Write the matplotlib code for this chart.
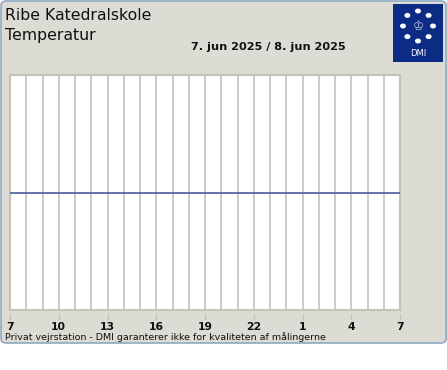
import matplotlib
matplotlib.use("Agg")
import matplotlib.pyplot as plt
from matplotlib.patches import FancyBboxPatch, Rectangle, Circle
import numpy as np

station = "Ribe Katedralskole"
parameter = "Temperatur"
date_label = "7. jun 2025 / 8. jun 2025"
footer = "Privat vejrstation - DMI garanterer ikke for kvaliteten af målingerne"
tick_hours = [7, 10, 13, 16, 19, 22, 25, 28, 31]
tick_labels = ["7", "10", "13", "16", "19", "22", "1", "4", "7"]
line_hours = [7, 31]
line_values = [0.0, 0.0]

W, H = 447, 370
fig = plt.figure(figsize=(W / 100, H / 100), dpi=100)
fig.patch.set_facecolor("white")

def fx(px):
    return px / W

def fy(py):
    return 1 - py / H

# panel
panel = FancyBboxPatch((fx(1), fy(343)), fx(445), (343 - 1) / H,
                       boxstyle="round,pad=0,rounding_size=0.012",
                       transform=fig.transFigure, facecolor="#dcdcd4",
                       edgecolor="#8eaac0", linewidth=1.2, zorder=-5)
fig.patches.append(panel)

# logo
logo = Rectangle((fx(393), fy(62)), fx(50), 58 / H, transform=fig.transFigure,
                 facecolor="#0b2b84", edgecolor="none", zorder=-4)
fig.patches.append(logo)
cx, cy, r = 418, 26, 15
for a in np.arange(0, 360, 45):
    t = np.deg2rad(a)
    fig.patches.append(Circle((fx(cx + r * np.cos(t)), fy(cy - r * np.sin(t))),
                              3.0 / W, transform=fig.transFigure,
                              facecolor="white", edgecolor="none", zorder=-3))
fig.text(fx(cx), fy(cy + 0.5), "♔", color="#b8c4e0", fontsize=9, ha="center", va="center")
fig.text(fx(418), fy(54), "DMI", color="white", fontsize=6, ha="center", va="center")

# titles
fig.text(fx(5), fy(20), station, fontsize=11.3, color="#111111", va="baseline")
fig.text(fx(5), fy(40), parameter, fontsize=11.3, color="#111111", va="baseline")
fig.text(fx(191), fy(49.5), date_label, fontsize=8.1, fontweight="bold",
         color="#111111", va="baseline")

# axes
ax = fig.add_axes([fx(10), fy(310), fx(390), 235 / H])
ax.set_facecolor("white")
ax.set_xlim(7, 31)
ax.set_ylim(-1, 1)
for h in range(8, 31):
    ax.axvline(h, color="#c4c4b4", linewidth=1.2, zorder=1)
ax.plot(line_hours, line_values, color="#4a5a9c", linewidth=1.2, zorder=3)
for s in ax.spines.values():
    s.set_color("#c4c4b4")
    s.set_linewidth(1.5)
ax.set_yticks([])
ax.set_xticks(tick_hours)
ax.set_xticklabels(tick_labels, fontsize=7.8, fontweight="bold", color="#111111")
ax.tick_params(axis="x", length=0, pad=8.5)
xt = ax.get_xaxis_transform()
for h in tick_hours:
    ax.plot([h, h], [-4 / 235, -9 / 235], transform=xt, color="#c4c4b4",
            linewidth=1, clip_on=False)

fig.text(fx(5), fy(340), footer, fontsize=6.8, color="#111111", va="baseline")

fig.savefig("out.png", dpi=100)
